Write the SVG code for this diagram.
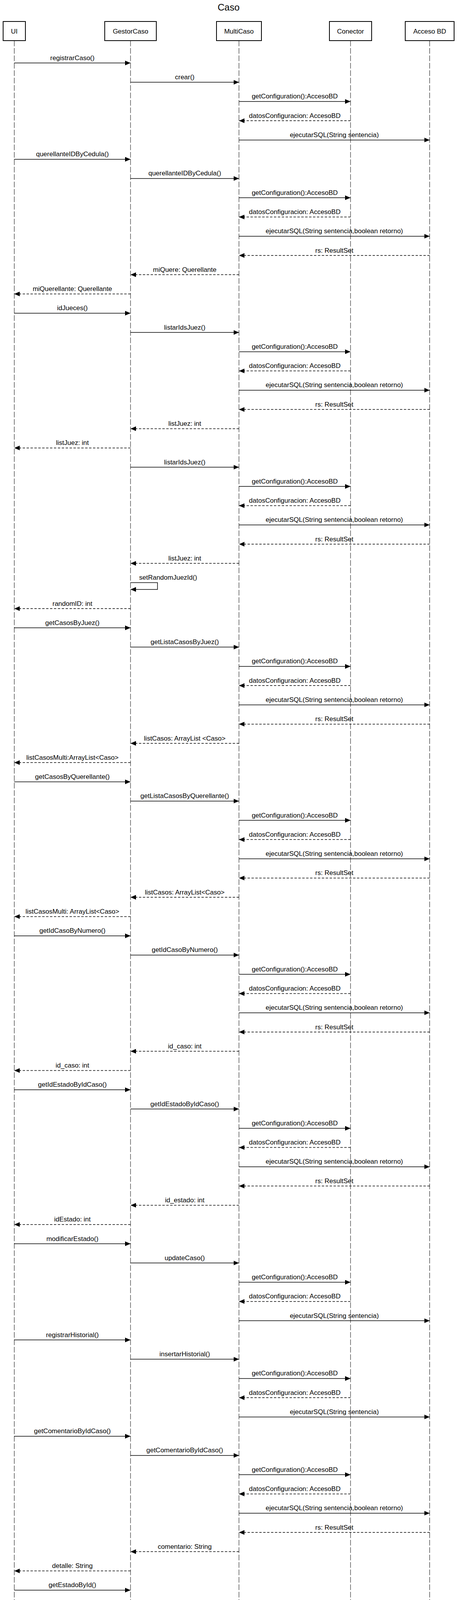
<svg xmlns="http://www.w3.org/2000/svg" width="1172" height="4870" viewBox="0 0 1172 4870">
<style>
text{font-family:"Liberation Sans",Arial,sans-serif;font-size:17px;fill:#000;text-anchor:middle}
.title{font-size:24px}
.box{fill:#fff;stroke:#000;stroke-width:2}
.life{stroke:#000;stroke-width:1;stroke-dasharray:14.5 4.5;fill:none}
.call{stroke:#000;stroke-width:1.5;fill:none;marker-end:url(#ah)}
.ret{stroke:#000;stroke-width:1.5;fill:none;stroke-dasharray:6 4;marker-end:url(#ah)}
.self{text-anchor:start}
</style>
<defs>
<marker id="ah" viewBox="0 0 14 12" refX="14" refY="6" markerWidth="14" markerHeight="12" markerUnits="userSpaceOnUse" orient="auto"><path d="M0,0L14,6L0,12z" fill="#000"/></marker>
</defs>
<rect x="0" y="0" width="1172" height="4870" fill="#fff"/>
<text class="title" x="585" y="27">Caso</text>
<g id="node-ui"><line class="life" x1="36.5" y1="104" x2="36.5" y2="4870"/><rect class="box" x="8" y="55" width="57" height="49"/><text x="36.5" y="85.5">UI</text></g>
<g id="node-gestorcaso"><line class="life" x1="334" y1="104" x2="334" y2="4870"/><rect class="box" x="268" y="55" width="132" height="49"/><text x="334" y="85.5">GestorCaso</text></g>
<g id="node-multicaso"><line class="life" x1="611.5" y1="104" x2="611.5" y2="4870"/><rect class="box" x="554" y="55" width="115" height="49"/><text x="611.5" y="85.5">MultiCaso</text></g>
<g id="node-conector"><line class="life" x1="897" y1="104" x2="897" y2="4870"/><rect class="box" x="843" y="55" width="108" height="49"/><text x="897" y="85.5">Conector</text></g>
<g id="node-accesobd"><line class="life" x1="1099.5" y1="104" x2="1099.5" y2="4870"/><rect class="box" x="1037" y="55" width="125" height="49"/><text x="1099.5" y="85.5">Acceso BD</text></g>
<g id="connectors">
<path class="call" d="M36.5,161.3H334"/><text x="185.25" y="153.8">registrarCaso()</text>
<path class="call" d="M334,210.6H611.5"/><text x="472.75" y="203.1">crear()</text>
<path class="call" d="M611.5,259.8H897"/><text x="754.25" y="252.3">getConfiguration():AccesoBD</text>
<path class="ret" d="M897,309.1H611.5"/><text x="754.25" y="301.6">datosConfiguracion: AccesoBD</text>
<path class="call" d="M611.5,358.4H1099.5"/><text x="855.5" y="350.9">ejecutarSQL(String sentencia)</text>
<path class="call" d="M36.5,407.7H334"/><text x="185.25" y="400.2">querellanteIDByCedula()</text>
<path class="call" d="M334,456.9H611.5"/><text x="472.75" y="449.4">querellanteIDByCedula()</text>
<path class="call" d="M611.5,506.2H897"/><text x="754.25" y="498.7">getConfiguration():AccesoBD</text>
<path class="ret" d="M897,555.5H611.5"/><text x="754.25" y="548">datosConfiguracion: AccesoBD</text>
<path class="call" d="M611.5,604.7H1099.5"/><text x="855.5" y="597.2">ejecutarSQL(String sentencia,boolean retorno)</text>
<path class="ret" d="M1099.5,654H611.5"/><text x="855.5" y="646.5">rs: ResultSet</text>
<path class="ret" d="M611.5,703.3H334"/><text x="472.75" y="695.8">miQuere: Querellante</text>
<path class="ret" d="M334,752.5H36.5"/><text x="185.25" y="745">miQuerellante: Querellante</text>
<path class="call" d="M36.5,801.8H334"/><text x="185.25" y="794.3">idJueces()</text>
<path class="call" d="M334,851.1H611.5"/><text x="472.75" y="843.6">listarIdsJuez()</text>
<path class="call" d="M611.5,900.4H897"/><text x="754.25" y="892.9">getConfiguration():AccesoBD</text>
<path class="ret" d="M897,949.6H611.5"/><text x="754.25" y="942.1">datosConfiguracion: AccesoBD</text>
<path class="call" d="M611.5,998.9H1099.5"/><text x="855.5" y="991.4">ejecutarSQL(String sentencia,boolean retorno)</text>
<path class="ret" d="M1099.5,1048.2H611.5"/><text x="855.5" y="1040.7">rs: ResultSet</text>
<path class="ret" d="M611.5,1097.4H334"/><text x="472.75" y="1089.9">listJuez: int</text>
<path class="ret" d="M334,1146.7H36.5"/><text x="185.25" y="1139.2">listJuez: int</text>
<path class="call" d="M334,1196H611.5"/><text x="472.75" y="1188.5">listarIdsJuez()</text>
<path class="call" d="M611.5,1245.2H897"/><text x="754.25" y="1237.7">getConfiguration():AccesoBD</text>
<path class="ret" d="M897,1294.5H611.5"/><text x="754.25" y="1287">datosConfiguracion: AccesoBD</text>
<path class="call" d="M611.5,1343.8H1099.5"/><text x="855.5" y="1336.3">ejecutarSQL(String sentencia,boolean retorno)</text>
<path class="ret" d="M1099.5,1393.1H611.5"/><text x="855.5" y="1385.6">rs: ResultSet</text>
<path class="ret" d="M611.5,1442.3H334"/><text x="472.75" y="1434.8">listJuez: int</text>
<path class="call" d="M334,1491.6H403V1508.9H334"/><text class="self" x="356" y="1484.1">setRandomJuezId()</text>
<path class="ret" d="M334,1558.1H36.5"/><text x="185.25" y="1550.6">randomID: int</text>
<path class="call" d="M36.5,1607.3H334"/><text x="185.25" y="1599.8">getCasosByJuez()</text>
<path class="call" d="M334,1656.6H611.5"/><text x="472.75" y="1649.1">getListaCasosByJuez()</text>
<path class="call" d="M611.5,1705.9H897"/><text x="754.25" y="1698.4">getConfiguration():AccesoBD</text>
<path class="ret" d="M897,1755.1H611.5"/><text x="754.25" y="1747.6">datosConfiguracion: AccesoBD</text>
<path class="call" d="M611.5,1804.4H1099.5"/><text x="855.5" y="1796.9">ejecutarSQL(String sentencia,boolean retorno)</text>
<path class="ret" d="M1099.5,1853.7H611.5"/><text x="855.5" y="1846.2">rs: ResultSet</text>
<path class="ret" d="M611.5,1903H334"/><text x="472.75" y="1895.5">listCasos: ArrayList &lt;Caso&gt;</text>
<path class="ret" d="M334,1952.2H36.5"/><text x="185.25" y="1944.7">listCasosMulti:ArrayList&lt;Caso&gt;</text>
<path class="call" d="M36.5,2001.5H334"/><text x="185.25" y="1994">getCasosByQuerellante()</text>
<path class="call" d="M334,2050.8H611.5"/><text x="472.75" y="2043.3">getListaCasosByQuerellante()</text>
<path class="call" d="M611.5,2100H897"/><text x="754.25" y="2092.5">getConfiguration():AccesoBD</text>
<path class="ret" d="M897,2149.3H611.5"/><text x="754.25" y="2141.8">datosConfiguracion: AccesoBD</text>
<path class="call" d="M611.5,2198.6H1099.5"/><text x="855.5" y="2191.1">ejecutarSQL(String sentencia,boolean retorno)</text>
<path class="ret" d="M1099.5,2247.8H611.5"/><text x="855.5" y="2240.3">rs: ResultSet</text>
<path class="ret" d="M611.5,2297.1H334"/><text x="472.75" y="2289.6">listCasos: ArrayList&lt;Caso&gt;</text>
<path class="ret" d="M334,2346.4H36.5"/><text x="185.25" y="2338.9">listCasosMulti: ArrayList&lt;Caso&gt;</text>
<path class="call" d="M36.5,2395.7H334"/><text x="185.25" y="2388.2">getIdCasoByNumero()</text>
<path class="call" d="M334,2444.9H611.5"/><text x="472.75" y="2437.4">getIdCasoByNumero()</text>
<path class="call" d="M611.5,2494.2H897"/><text x="754.25" y="2486.7">getConfiguration():AccesoBD</text>
<path class="ret" d="M897,2543.5H611.5"/><text x="754.25" y="2536">datosConfiguracion: AccesoBD</text>
<path class="call" d="M611.5,2592.7H1099.5"/><text x="855.5" y="2585.2">ejecutarSQL(String sentencia,boolean retorno)</text>
<path class="ret" d="M1099.5,2642H611.5"/><text x="855.5" y="2634.5">rs: ResultSet</text>
<path class="ret" d="M611.5,2691.3H334"/><text x="472.75" y="2683.8">id_caso: int</text>
<path class="ret" d="M334,2740.5H36.5"/><text x="185.25" y="2733">id_caso: int</text>
<path class="call" d="M36.5,2789.8H334"/><text x="185.25" y="2782.3">getIdEstadoByIdCaso()</text>
<path class="call" d="M334,2839.1H611.5"/><text x="472.75" y="2831.6">getIdEstadoByIdCaso()</text>
<path class="call" d="M611.5,2888.4H897"/><text x="754.25" y="2880.9">getConfiguration():AccesoBD</text>
<path class="ret" d="M897,2937.6H611.5"/><text x="754.25" y="2930.1">datosConfiguracion: AccesoBD</text>
<path class="call" d="M611.5,2986.9H1099.5"/><text x="855.5" y="2979.4">ejecutarSQL(String sentencia,boolean retorno)</text>
<path class="ret" d="M1099.5,3036.2H611.5"/><text x="855.5" y="3028.7">rs: ResultSet</text>
<path class="ret" d="M611.5,3085.4H334"/><text x="472.75" y="3077.9">id_estado: int</text>
<path class="ret" d="M334,3134.7H36.5"/><text x="185.25" y="3127.2">idEstado: int</text>
<path class="call" d="M36.5,3184H334"/><text x="185.25" y="3176.5">modificarEstado()</text>
<path class="call" d="M334,3233.2H611.5"/><text x="472.75" y="3225.7">updateCaso()</text>
<path class="call" d="M611.5,3282.5H897"/><text x="754.25" y="3275">getConfiguration():AccesoBD</text>
<path class="ret" d="M897,3331.8H611.5"/><text x="754.25" y="3324.3">datosConfiguracion: AccesoBD</text>
<path class="call" d="M611.5,3381.1H1099.5"/><text x="855.5" y="3373.6">ejecutarSQL(String sentencia)</text>
<path class="call" d="M36.5,3430.3H334"/><text x="185.25" y="3422.8">registrarHistorial()</text>
<path class="call" d="M334,3479.6H611.5"/><text x="472.75" y="3472.1">insertarHistorial()</text>
<path class="call" d="M611.5,3528.9H897"/><text x="754.25" y="3521.4">getConfiguration():AccesoBD</text>
<path class="ret" d="M897,3578.1H611.5"/><text x="754.25" y="3570.6">datosConfiguracion: AccesoBD</text>
<path class="call" d="M611.5,3627.4H1099.5"/><text x="855.5" y="3619.9">ejecutarSQL(String sentencia)</text>
<path class="call" d="M36.5,3676.7H334"/><text x="185.25" y="3669.2">getComentarioByIdCaso()</text>
<path class="call" d="M334,3725.9H611.5"/><text x="472.75" y="3718.4">getComentarioByIdCaso()</text>
<path class="call" d="M611.5,3775.2H897"/><text x="754.25" y="3767.7">getConfiguration():AccesoBD</text>
<path class="ret" d="M897,3824.5H611.5"/><text x="754.25" y="3817">datosConfiguracion: AccesoBD</text>
<path class="call" d="M611.5,3873.8H1099.5"/><text x="855.5" y="3866.3">ejecutarSQL(String sentencia,boolean retorno)</text>
<path class="ret" d="M1099.5,3923H611.5"/><text x="855.5" y="3915.5">rs: ResultSet</text>
<path class="ret" d="M611.5,3972.3H334"/><text x="472.75" y="3964.8">comentario: String</text>
<path class="ret" d="M334,4021.6H36.5"/><text x="185.25" y="4014.1">detalle: String</text>
<path class="call" d="M36.5,4070.8H334"/><text x="185.25" y="4063.3">getEstadoById()</text>
<path class="call" d="M334,4120.1H611.5"/><text x="472.75" y="4112.6">getEstadoById()</text>
<path class="call" d="M611.5,4169.4H897"/><text x="754.25" y="4161.9">getConfiguration():AccesoBD</text>
<path class="ret" d="M897,4218.6H611.5"/><text x="754.25" y="4211.1">datosConfiguracion: AccesoBD</text>
<path class="call" d="M611.5,4267.9H1099.5"/><text x="855.5" y="4260.4">ejecutarSQL(String sentencia,boolean retorno)</text>
<path class="ret" d="M1099.5,4317.2H611.5"/><text x="855.5" y="4309.7">rs: ResultSet</text>
<path class="call" d="M611.5,4366.5H334"/><text x="472.75" y="4359">nombre:String</text>
<path class="ret" d="M334,4415.7H36.5"/><text x="185.25" y="4408.2">nombreCaso: String</text>
<path class="call" d="M36.5,4465H334"/><text x="185.25" y="4457.5">getHistorialByCaso()</text>
<path class="call" d="M334,4514.3H611.5"/><text x="472.75" y="4506.8">getHistorialCaso()</text>
<path class="call" d="M611.5,4563.5H897"/><text x="754.25" y="4556">getConfiguration():AccesoBD</text>
<path class="ret" d="M897,4612.8H611.5"/><text x="754.25" y="4605.3">datosConfiguracion: AccesoBD</text>
<path class="call" d="M611.5,4662.1H1099.5"/><text x="855.5" y="4654.6">ejecutarSQL(String sentencia,boolean retorno)</text>
<path class="ret" d="M1099.5,4711.4H611.5"/><text x="855.5" y="4703.9">rs: ResultSet</text>
<path class="call" d="M611.5,4760.6H334"/><text x="472.75" y="4753.1">listCasos: ArrayList&lt;Caso&gt;</text>
<path class="ret" d="M334,4809.9H36.5"/><text x="185.25" y="4802.4">listCasosMulti: ArrayList&lt;Caso&gt;</text>
</g>
</svg>
